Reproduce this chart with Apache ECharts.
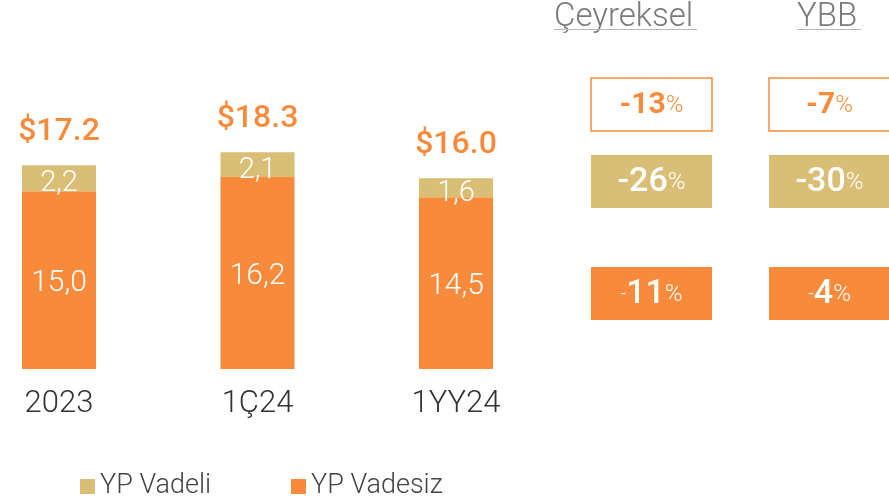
<!DOCTYPE html>
<html>
<head>
<meta charset="utf-8">
<script src="https://cdn.jsdelivr.net/npm/echarts@6/dist/echarts.min.js"></script>
<style>html,body{margin:0;padding:0;background:#fff}#c{width:889px;height:502px}</style>
</head>
<body>
<div id="c"></div>
<script>
const categories = ['2023', '1Ç24', '1YY24'];
const vadeli = [2.2, 2.1, 1.6];
const vadesiz = [15.0, 16.2, 14.5];
const totals = ['$17.2', '$18.3', '$16.0'];
const columnTitles = ['Çeyreksel', 'YBB'];
const quarterly = [-13, -26, -11];
const ytd = [-7, -30, -4];

const GOLD = '#D9BE76';
const ORANGE = '#F78B3B';
const FONT = 'Roboto';

const chart = echarts.init(document.getElementById('c'));

function fmtNum(v) { return v.toFixed(1).replace('.', ','); }

function boxText(v, row) {
  const abs = Math.abs(v);
  if (row === 0) return '{b0|-' + abs + '}{p0|%}';
  if (row === 1) return '{b1|-' + abs + '}{p1|%}';
  return '{m2|-}{b2|' + abs + '}{p1|%}';
}
const rich = {
  b0: { fontFamily: FONT, fontSize: 30, fontWeight: 700, fill: ORANGE },
  p0: { fontFamily: FONT, fontSize: 24, fontWeight: 300, fill: ORANGE },
  b1: { fontFamily: FONT, fontSize: 34, fontWeight: 500, fill: '#fff' },
  p1: { fontFamily: FONT, fontSize: 24, fontWeight: 300, fill: '#fff' },
  m2: { fontFamily: FONT, fontSize: 20, fontWeight: 300, fill: '#fff' },
  b2: { fontFamily: FONT, fontSize: 34, fontWeight: 500, fill: '#fff' }
};

const colX = [591, 769];
const rowY = [78, 155, 267];
const boxW = 121, boxH = 53;
const graphics = [];
columnTitles.forEach((t, ci) => {
  const tx = ci === 0 ? 554 : 797;
  const tw = ci === 0 ? 143 : 64;
  graphics.push({
    type: 'text', left: tx, top: 1,
    style: { text: t, fontFamily: FONT, fontSize: 33, fontWeight: 300, fill: '#7a7a7a' }
  });
  graphics.push({
    type: 'line', shape: { x1: tx, y1: 29.5, x2: tx + tw, y2: 29.5 },
    style: { stroke: '#b8b8b8', lineWidth: 1 }
  });
  const vals = ci === 0 ? quarterly : ytd;
  vals.forEach((v, ri) => {
    const x = colX[ci], y = rowY[ri];
    let rectStyle;
    if (ri === 0) rectStyle = { fill: '#fff', stroke: ORANGE, lineWidth: 1.5 };
    else if (ri === 1) rectStyle = { fill: GOLD };
    else rectStyle = { fill: ORANGE };
    graphics.push({
      type: 'rect', shape: { x: x, y: y, width: boxW, height: boxH }, style: rectStyle
    });
    graphics.push({
      type: 'text', x: x + boxW / 2, y: y + boxH / 2 + 1,
      style: { text: boxText(v, ri), rich: rich, align: 'center', verticalAlign: 'middle' }
    });
  });
});

chart.setOption({
  animation: false,
  backgroundColor: '#fff',
  grid: { left: 59, right: 433, top: 132, bottom: 133, containLabel: false },
  legend: {
    data: ['YP Vadeli', 'YP Vadesiz'],
    left: 80, top: 473, padding: 0,
    icon: 'rect', itemWidth: 15, itemHeight: 15, itemGap: 80,
    textStyle: { fontFamily: FONT, fontSize: 27, fontWeight: 300, color: '#444' }
  },
  xAxis: {
    type: 'category', data: categories, boundaryGap: false,
    axisLine: { show: false }, axisTick: { show: false }, splitLine: { show: false },
    axisLabel: { fontFamily: FONT, fontSize: 31, fontWeight: 300, color: '#333', margin: 20 }
  },
  yAxis: { type: 'value', min: 0, max: 20, show: false, splitLine: { show: false } },
  series: [
    {
      name: 'YP Vadesiz', type: 'bar', stack: 'a', data: vadesiz, barWidth: 74, clip: false,
      itemStyle: { color: ORANGE },
      label: { show: true, position: 'inside', offset: [0, 3], formatter: p => fmtNum(p.value),
        fontFamily: FONT, fontSize: 30, fontWeight: 300, color: '#fff' }
    },
    {
      name: 'YP Vadeli', type: 'bar', stack: 'a', data: vadeli, barWidth: 74, clip: false,
      itemStyle: { color: GOLD },
      label: { show: true, position: 'inside', offset: [0, 6], formatter: p => fmtNum(p.value),
        fontFamily: FONT, fontSize: 29, fontWeight: 300, color: '#fff' }
    },
    {
      name: 'Toplam', type: 'bar', stack: 'a', data: totals.map(() => 0), barWidth: 74, clip: false,
      itemStyle: { color: 'transparent' },
      label: { show: true, position: 'top', distance: 17, formatter: p => totals[p.dataIndex],
        fontFamily: FONT, fontSize: 32, fontWeight: 500, color: ORANGE }
    }
  ],
  graphic: graphics
});
</script>
</body>
</html>
